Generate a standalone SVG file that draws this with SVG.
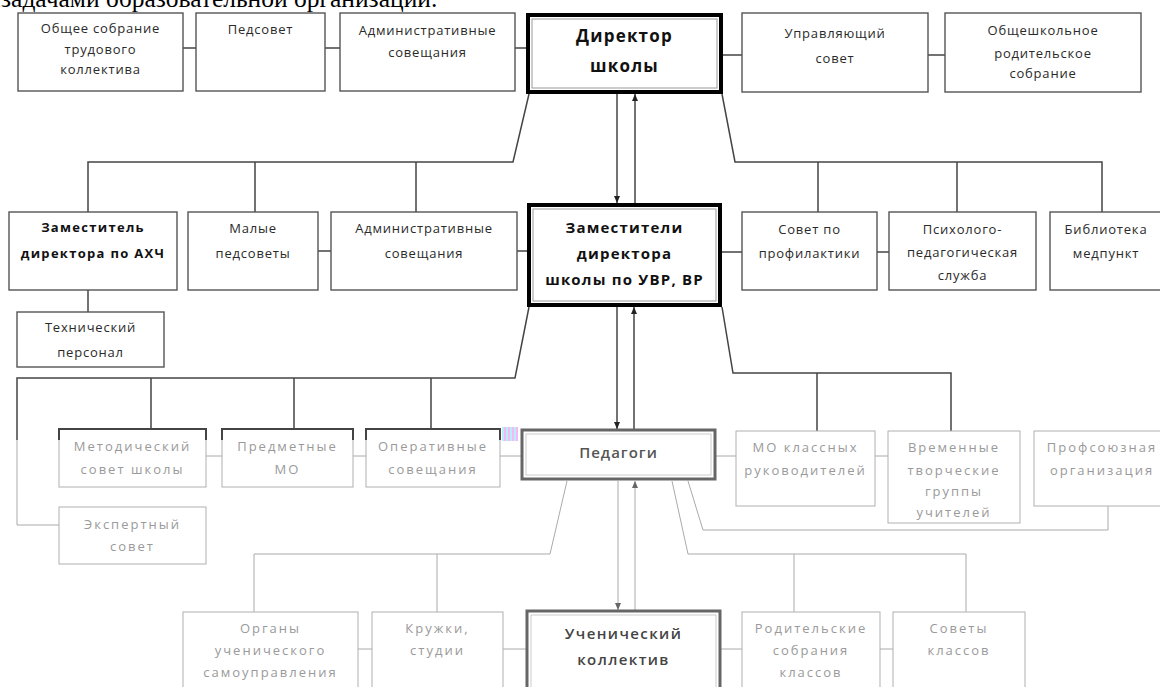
<svg xmlns="http://www.w3.org/2000/svg" width="1160" height="687" viewBox="0 0 1160 687">
<style>
.bx{fill:#fff;stroke:#555;stroke-width:1.4}
.lb{fill:#fff;stroke:#b0b0b0;stroke-width:1}
.t{font-family:"Open Sans","Liberation Sans",sans-serif;font-size:13px;fill:#2a2a2a;text-anchor:middle;dominant-baseline:central;letter-spacing:0.8px}
.b{font-weight:bold;fill:#111}
.lt{fill:#9a9a9a;letter-spacing:2px}
.c{stroke:#444;stroke-width:1.5;fill:none}
.lc{stroke:#aaa;stroke-width:1;fill:none}
.dk{stroke:#444;stroke-width:2;fill:none}
</style>
<defs>
<marker id="ad" markerWidth="7" markerHeight="6" refX="7" refY="3" orient="auto" markerUnits="userSpaceOnUse"><path d="M0,0 L7,3 L0,6 z" fill="#222"/></marker>
<marker id="al" markerWidth="7" markerHeight="6" refX="7" refY="3" orient="auto" markerUnits="userSpaceOnUse"><path d="M0,0 L7,3 L0,6 z" fill="#666"/></marker>
<pattern id="chk" width="4" height="3" patternUnits="userSpaceOnUse"><rect width="2" height="3" fill="#f0a8f0"/><rect x="2" width="2" height="3" fill="#a8e8f8"/></pattern>
</defs>
<rect width="1160" height="687" fill="#fff"/>
<text x="1" y="7" font-family="Liberation Serif, serif" font-size="25.5" fill="#000">задачами образовательной организации.</text>

<g id="connectors">
<path class="c" d="M183,48H196M325,48H340M515,48H526M723,55H742M928,55H945"/>
<path class="c" d="M529,94L513,162H88V212M255,162V212M416,162V212"/>
<path class="c" d="M722,94L735,162H1102V212M818,162V212M957,162V212"/>
<path class="c" d="M617,94V203" marker-end="url(#ad)"/>
<path class="c" d="M635,203V94" marker-end="url(#ad)"/>
<path class="c" d="M318,251H331M517,251H527M722,252H742M877,252H889M88,290V312"/>
<path class="c" d="M529,307L515,378H17V440M151,378V429M294,378V429M431,378V429"/>
<path class="c" d="M722,307L733,373H951V431M817,373V431"/>
<path class="c" d="M617,307V429" marker-end="url(#ad)"/>
<path class="c" d="M634,429V307" marker-end="url(#ad)"/>
<path class="lc" d="M17,440V525H59"/>
<path class="lc" d="M206,456H222M353,456H366M500,456H521M716,456H736M875,456H888"/>
<path class="lc" d="M567,481L550,554H254V612M437,554V612"/>
<path class="lc" d="M672,481L688,554H966V612M794,554V612"/>
<path class="lc" d="M688,481L703,530H1108V506"/>
<path class="lc" d="M618,481V610" marker-end="url(#al)"/>
<path class="lc" d="M635,610V481" marker-end="url(#al)"/>
<path class="lc" d="M358,649H372M503,649H526M721,649H742M880,649H893"/>
</g>

<g id="n-obshee"><rect class="bx" x="18" y="13" width="165" height="78"/>
<text class="t" x="100.5" y="28">Общее собрание</text><text class="t" x="100.5" y="49">трудового</text><text class="t" x="100.5" y="69">коллектива</text></g>
<g id="n-pedsovet"><rect class="bx" x="196" y="13" width="129" height="78"/>
<text class="t" x="260.5" y="29">Педсовет</text></g>
<g id="n-adm1"><rect class="bx" x="340" y="13" width="175" height="78"/>
<text class="t" x="427.5" y="30">Административные</text><text class="t" x="427.5" y="52">совещания</text></g>
<g id="n-director"><rect x="528" y="15" width="193" height="77" fill="#fff" stroke="#000" stroke-width="4"/>
<rect x="532" y="19" width="185" height="69" fill="none" stroke="#999" stroke-width="1"/>
<text class="t b" x="624.5" y="35" style="font-size:17px;letter-spacing:1.2px">Директор</text><text class="t b" x="624.5" y="65" style="font-size:17px;letter-spacing:1.2px">школы</text></g>
<g id="n-upr"><rect class="bx" x="742" y="13" width="186" height="79"/>
<text class="t" x="835" y="33">Управляющий</text><text class="t" x="835" y="58">совет</text></g>
<g id="n-obsh-rod"><rect class="bx" x="945" y="13" width="196" height="79"/>
<text class="t" x="1043" y="30">Общешкольное</text><text class="t" x="1043" y="53">родительское</text><text class="t" x="1043" y="73">собрание</text></g>

<g id="n-ahch"><rect class="bx" x="9" y="212" width="168" height="78"/>
<text class="t b" x="93" y="227" style="letter-spacing:1.3px">Заместитель</text><text class="t b" x="93" y="253" style="letter-spacing:1.3px">директора по АХЧ</text></g>
<g id="n-malye"><rect class="bx" x="188" y="212" width="130" height="78"/>
<text class="t" x="253" y="228">Малые</text><text class="t" x="253" y="253">педсоветы</text></g>
<g id="n-adm2"><rect class="bx" x="331" y="212" width="186" height="78"/>
<text class="t" x="424" y="228">Административные</text><text class="t" x="424" y="253">совещания</text></g>
<g id="n-zam"><rect x="529" y="205" width="191" height="100" fill="#fff" stroke="#000" stroke-width="4"/>
<rect x="533" y="209" width="183" height="92" fill="none" stroke="#999" stroke-width="1"/>
<text class="t b" x="624.5" y="227" style="font-size:15px;letter-spacing:1.2px">Заместители</text><text class="t b" x="624.5" y="253" style="font-size:15px;letter-spacing:1.2px">директора</text><text class="t b" x="624.5" y="279" style="font-size:15px;letter-spacing:1.2px">школы по УВР, ВР</text></g>
<g id="n-profil"><rect class="bx" x="742" y="212" width="135" height="78"/>
<text class="t" x="809.5" y="229">Совет по</text><text class="t" x="809.5" y="253">профилактики</text></g>
<g id="n-psih"><rect class="bx" x="889" y="212" width="147" height="78"/>
<text class="t" x="962.5" y="229">Психолого-</text><text class="t" x="962.5" y="252">педагогическая</text><text class="t" x="962.5" y="275">служба</text></g>
<g id="n-bibl"><rect class="bx" x="1050" y="212" width="130" height="78"/>
<text class="t" x="1106" y="229">Библиотека</text><text class="t" x="1106" y="253">медпункт</text></g>
<g id="n-tech"><rect class="bx" x="17" y="312" width="147" height="55"/>
<text class="t" x="90.5" y="327">Технический</text><text class="t" x="90.5" y="352">персонал</text></g>

<g id="n-metod"><rect class="lb" x="59" y="429" width="147" height="58"/><path class="dk" d="M59,440V429H206V440"/>
<text class="t lt" x="132.5" y="446">Методический</text><text class="t lt" x="132.5" y="469">совет школы</text></g>
<g id="n-predm"><rect class="lb" x="222" y="429" width="131" height="58"/><path class="dk" d="M222,440V429H353V440"/>
<text class="t lt" x="287.5" y="446">Предметные</text><text class="t lt" x="287.5" y="469">МО</text></g>
<g id="n-operat"><rect class="lb" x="366" y="429" width="134" height="58"/><path class="dk" d="M366,440V429H500V440"/>
<text class="t lt" x="433" y="446">Оперативные</text><text class="t lt" x="433" y="469">совещания</text></g>
<rect x="502" y="427" width="16" height="14" fill="url(#chk)" opacity="0.8"/>
<g id="n-pedagogi"><rect x="522" y="430" width="193" height="49" fill="#fff" stroke="#666" stroke-width="3"/>
<rect x="526" y="434" width="185" height="41" fill="none" stroke="#ccc" stroke-width="1"/>
<text class="t" x="618.5" y="452" style="font-size:15px;fill:#555;font-weight:600;letter-spacing:1px">Педагоги</text></g>
<g id="n-mo-kl"><rect class="lb" x="736" y="431" width="139" height="75"/>
<text class="t lt" x="805.5" y="447">МО классных</text><text class="t lt" x="805.5" y="470">руководителей</text></g>
<g id="n-vrem"><rect class="lb" x="888" y="431" width="132" height="92"/>
<text class="t lt" x="954" y="447">Временные</text><text class="t lt" x="954" y="470">творческие</text><text class="t lt" x="954" y="491">группы</text><text class="t lt" x="954" y="512">учителей</text></g>
<g id="n-prof"><rect class="lb" x="1034" y="431" width="140" height="75"/>
<text class="t lt" x="1102" y="447">Профсоюзная</text><text class="t lt" x="1102" y="470">организация</text></g>
<g id="n-expert"><rect class="lb" x="59" y="507" width="147" height="57"/>
<text class="t lt" x="132.5" y="524">Экспертный</text><text class="t lt" x="132.5" y="546">совет</text></g>

<g id="n-organy"><rect class="lb" x="183" y="612" width="175" height="90"/>
<text class="t lt" x="270.5" y="628">Органы</text><text class="t lt" x="270.5" y="650">ученического</text><text class="t lt" x="270.5" y="672">самоуправления</text></g>
<g id="n-kruzhki"><rect class="lb" x="372" y="612" width="131" height="90"/>
<text class="t lt" x="437.5" y="628">Кружки,</text><text class="t lt" x="437.5" y="650">студии</text></g>
<g id="n-uchen"><rect x="527" y="611" width="193" height="90" fill="#fff" stroke="#666" stroke-width="3"/>
<rect x="531" y="615" width="185" height="82" fill="none" stroke="#ccc" stroke-width="1"/>
<text class="t" x="623.5" y="633" style="font-size:15px;fill:#444;font-weight:600;letter-spacing:1.4px">Ученический</text><text class="t" x="623.5" y="659" style="font-size:15px;fill:#444;font-weight:600;letter-spacing:1.4px">коллектив</text></g>
<g id="n-rodit"><rect class="lb" x="742" y="612" width="138" height="90"/>
<text class="t lt" x="811" y="628">Родительские</text><text class="t lt" x="811" y="650">собрания</text><text class="t lt" x="811" y="672">классов</text></g>
<g id="n-sovety"><rect class="lb" x="893" y="612" width="132" height="90"/>
<text class="t lt" x="959" y="628">Советы</text><text class="t lt" x="959" y="650">классов</text></g>
</svg>
